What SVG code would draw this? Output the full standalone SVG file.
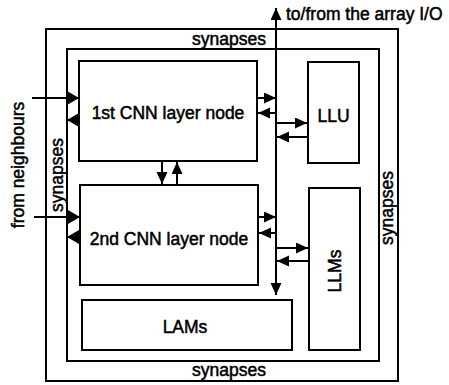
<svg xmlns="http://www.w3.org/2000/svg" width="449" height="385" viewBox="0 0 449 385">
<style>
.box{fill:none;stroke:#000;stroke-width:2}
.node{fill:#fff;stroke:#000;stroke-width:2}
.t{font-family:"Liberation Sans",Arial,sans-serif;font-size:17.5px;fill:#000;stroke:#000;stroke-width:0.5}
.c{stroke:#000;stroke-width:2;fill:none}
</style>
<defs>
<marker id="ah" markerUnits="userSpaceOnUse" markerWidth="13" markerHeight="12" refX="12" refY="5.5" orient="auto-start-reverse">
<path d="M0,0 L12,5.5 L0,11 z" fill="#000"/>
</marker>
<marker id="big" markerUnits="userSpaceOnUse" markerWidth="13" markerHeight="15" refX="12" refY="7" orient="auto">
<path d="M0,0 L12,7 L0,14 z" fill="#000"/>
</marker>
</defs>
<rect x="0" y="0" width="449" height="385" fill="#fff"/>
<g id="outer-synapses">
<rect class="box" x="46" y="29" width="352" height="352"/>
<text class="t" x="229" y="45" text-anchor="middle">synapses</text>
<text class="t" x="229" y="376" text-anchor="middle">synapses</text>
<text class="t" transform="translate(63,175) rotate(-90)" text-anchor="middle">synapses</text>
<text class="t" transform="translate(393,208) rotate(-90)" text-anchor="middle">synapses</text>
</g>
<g id="inner-box">
<rect class="box" x="67" y="49" width="312" height="312"/>
</g>
<g id="node1">
<rect class="node" x="79" y="61" width="178" height="100"/>
<text class="t" x="168" y="119" text-anchor="middle">1st CNN layer node</text>
</g>
<g id="node2">
<rect class="node" x="80" y="185" width="178" height="100"/>
<text class="t" x="169" y="245" text-anchor="middle">2nd CNN layer node</text>
</g>
<g id="lams">
<rect class="node" x="82" y="300" width="210" height="50"/>
<text class="t" x="185" y="333" text-anchor="middle">LAMs</text>
</g>
<g id="llu">
<rect class="node" x="308" y="62" width="51" height="101"/>
<text class="t" x="333.5" y="122" text-anchor="middle">LLU</text>
</g>
<g id="llms">
<rect class="node" x="309" y="188" width="51" height="162"/>
<text class="t" transform="translate(341,271) rotate(-90)" text-anchor="middle">LLMs</text>
</g>
<g id="labels">
<text class="t" x="286" y="20">to/from the array I/O</text>
<text class="t" transform="translate(24,165) rotate(-90)" text-anchor="middle">from neighbours</text>
</g>
<g id="connectors">
<line class="c" x1="276" y1="295" x2="276" y2="8" marker-start="url(#ah)" marker-end="url(#ah)"/>
<line class="c" x1="257" y1="98" x2="276" y2="98" marker-end="url(#ah)"/>
<line class="c" x1="276" y1="113" x2="258" y2="113" marker-end="url(#ah)"/>
<line class="c" x1="276" y1="123" x2="307" y2="123" marker-end="url(#ah)"/>
<line class="c" x1="308" y1="137" x2="277" y2="137" marker-end="url(#ah)"/>
<line class="c" x1="258" y1="217" x2="276" y2="217" marker-end="url(#ah)"/>
<line class="c" x1="276" y1="233" x2="259" y2="233" marker-end="url(#ah)"/>
<line class="c" x1="276" y1="248" x2="308" y2="248" marker-end="url(#ah)"/>
<line class="c" x1="309" y1="261" x2="277" y2="261" marker-end="url(#ah)"/>
<line class="c" x1="162" y1="161" x2="162" y2="184" marker-end="url(#ah)"/>
<line class="c" x1="177" y1="185" x2="177" y2="162" marker-end="url(#ah)"/>
<line class="c" x1="32" y1="98" x2="79" y2="98" marker-end="url(#big)"/>
<line class="c" x1="79" y1="120" x2="67" y2="120" marker-end="url(#big)"/>
<line class="c" x1="34" y1="217" x2="80" y2="217" marker-end="url(#big)"/>
<line class="c" x1="80" y1="237" x2="67" y2="237" marker-end="url(#big)"/>
</g>
</svg>
